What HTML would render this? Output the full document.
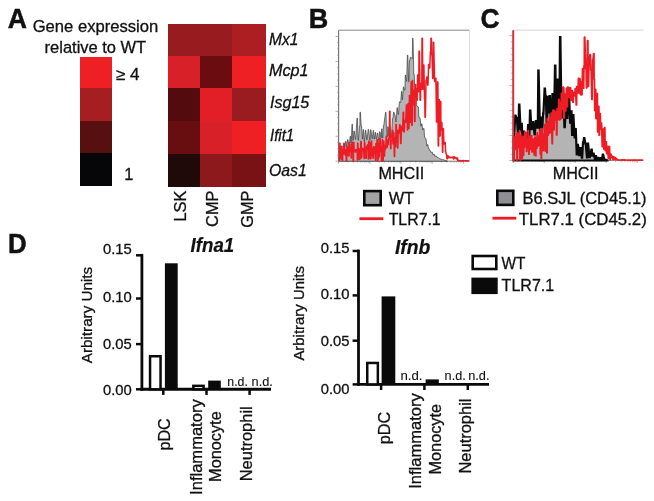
<!DOCTYPE html>
<html lang="en"><head><meta charset="utf-8"><title>Figure</title>
<style>
html,body{margin:0;padding:0;background:#fff;}
body{width:654px;height:501px;overflow:hidden;}
svg{display:block;font-family:"Liberation Sans", Arial, Helvetica, sans-serif;will-change:transform;}
</style></head><body>
<svg width="654" height="501" viewBox="0 0 654 501">
<rect width="654" height="501" fill="#ffffff"/>
<text x="7.8" y="28" font-size="28.2" text-anchor="start" font-weight="bold" font-style="normal" fill="#111" textLength="19.2" lengthAdjust="spacingAndGlyphs" stroke="#111" stroke-width="0.5">A</text>
<text x="32.7" y="32.3" font-size="16.4" text-anchor="start" font-weight="normal" font-style="normal" fill="#111" textLength="125.6" lengthAdjust="spacingAndGlyphs" stroke="#111" stroke-width="0.3">Gene expression</text>
<text x="44.6" y="52.5" font-size="16.4" text-anchor="start" font-weight="normal" font-style="normal" fill="#111" textLength="101.6" lengthAdjust="spacingAndGlyphs" stroke="#111" stroke-width="0.3">relative to WT</text>
<rect x="80.2" y="57.1" width="31.3" height="31.40" fill="#ee2024" shape-rendering="crispEdges"/>
<rect x="80.2" y="88.2" width="31.3" height="32.90" fill="#a61e21" shape-rendering="crispEdges"/>
<rect x="80.2" y="120.8" width="31.3" height="32.10" fill="#57100f" shape-rendering="crispEdges"/>
<rect x="80.2" y="152.6" width="31.3" height="33.40" fill="#060608" shape-rendering="crispEdges"/>
<text x="115.8" y="80.2" font-size="16.4" text-anchor="start" font-weight="normal" font-style="normal" fill="#111" textLength="23.6" lengthAdjust="spacingAndGlyphs" stroke="#111" stroke-width="0.3">≥ 4</text>
<text x="124.2" y="180.2" font-size="16.4" text-anchor="start" font-weight="normal" font-style="normal" fill="#111" stroke="#111" stroke-width="0.3">1</text>
<rect x="168" y="24.3" width="31.90" height="31.60" fill="#981b1f" shape-rendering="crispEdges"/>
<rect x="199.6" y="24.3" width="32.90" height="31.60" fill="#981b1f" shape-rendering="crispEdges"/>
<rect x="232.2" y="24.3" width="33.40" height="31.60" fill="#ad1e23" shape-rendering="crispEdges"/>
<rect x="168" y="55.6" width="31.90" height="32.90" fill="#d82028" shape-rendering="crispEdges"/>
<rect x="199.6" y="55.6" width="32.90" height="32.90" fill="#6b0d10" shape-rendering="crispEdges"/>
<rect x="232.2" y="55.6" width="33.40" height="32.90" fill="#ee2024" shape-rendering="crispEdges"/>
<rect x="168" y="88.2" width="31.90" height="33.40" fill="#540b0d" shape-rendering="crispEdges"/>
<rect x="199.6" y="88.2" width="32.90" height="33.40" fill="#e21f27" shape-rendering="crispEdges"/>
<rect x="232.2" y="88.2" width="33.40" height="33.40" fill="#9b1c20" shape-rendering="crispEdges"/>
<rect x="168" y="121.3" width="31.90" height="32.90" fill="#690e10" shape-rendering="crispEdges"/>
<rect x="199.6" y="121.3" width="32.90" height="32.90" fill="#d72028" shape-rendering="crispEdges"/>
<rect x="232.2" y="121.3" width="33.40" height="32.90" fill="#ee2024" shape-rendering="crispEdges"/>
<rect x="168" y="153.9" width="31.90" height="33.40" fill="#1f0909" shape-rendering="crispEdges"/>
<rect x="199.6" y="153.9" width="32.90" height="33.40" fill="#8d191d" shape-rendering="crispEdges"/>
<rect x="232.2" y="153.9" width="33.40" height="33.40" fill="#781214" shape-rendering="crispEdges"/>
<text x="269.0" y="45.1" font-size="16.4" text-anchor="start" font-weight="normal" font-style="italic" fill="#111" textLength="29.5" lengthAdjust="spacingAndGlyphs" stroke="#111" stroke-width="0.3">Mx1</text>
<text x="269.0" y="76" font-size="16.4" text-anchor="start" font-weight="normal" font-style="italic" fill="#111" textLength="39.6" lengthAdjust="spacingAndGlyphs" stroke="#111" stroke-width="0.3">Mcp1</text>
<text x="270.0" y="108.3" font-size="16.4" text-anchor="start" font-weight="normal" font-style="italic" fill="#111" textLength="39.3" lengthAdjust="spacingAndGlyphs" stroke="#111" stroke-width="0.3">Isg15</text>
<text x="270.0" y="141.4" font-size="16.4" text-anchor="start" font-weight="normal" font-style="italic" fill="#111" textLength="24.2" lengthAdjust="spacingAndGlyphs" stroke="#111" stroke-width="0.3">Ifit1</text>
<text x="269.0" y="176" font-size="16.4" text-anchor="start" font-weight="normal" font-style="italic" fill="#111" textLength="37.8" lengthAdjust="spacingAndGlyphs" stroke="#111" stroke-width="0.3">Oas1</text>
<text x="186.2" y="190.5" transform="rotate(-90 186.2 190.5)" font-size="16.4" text-anchor="end" font-weight="normal" font-style="normal" fill="#111" stroke="#111" stroke-width="0.3">LSK</text>
<text x="217.6" y="190.5" transform="rotate(-90 217.6 190.5)" font-size="16.4" text-anchor="end" font-weight="normal" font-style="normal" fill="#111" stroke="#111" stroke-width="0.3">CMP</text>
<text x="253.0" y="190.5" transform="rotate(-90 253.0 190.5)" font-size="16.4" text-anchor="end" font-weight="normal" font-style="normal" fill="#111" stroke="#111" stroke-width="0.3">GMP</text>
<text x="308.7" y="28" font-size="27.8" text-anchor="start" font-weight="bold" font-style="normal" fill="#111" textLength="19.5" lengthAdjust="spacingAndGlyphs" stroke="#111" stroke-width="0.5">B</text>
<text x="480.6" y="28.2" font-size="27.8" text-anchor="start" font-weight="bold" font-style="normal" fill="#111" textLength="19.0" lengthAdjust="spacingAndGlyphs" stroke="#111" stroke-width="0.5">C</text>
<line x1="338.6" y1="30.2" x2="469.5" y2="30.2" stroke="#8a8a8a" stroke-width="1"/>
<line x1="469.5" y1="30.2" x2="469.5" y2="161.2" stroke="#dcdcdc" stroke-width="1"/>
<line x1="338.6" y1="30.2" x2="338.6" y2="161.2" stroke="#777" stroke-width="1.2"/>
<line x1="338.6" y1="161.2" x2="469.5" y2="161.2" stroke="#777" stroke-width="1"/>
<line x1="335.6" y1="161.2" x2="338.6" y2="161.2" stroke="#888" stroke-width="0.7"/>
<line x1="337.1" y1="155.0" x2="338.6" y2="155.0" stroke="#888" stroke-width="0.7"/>
<line x1="337.1" y1="148.7" x2="338.6" y2="148.7" stroke="#888" stroke-width="0.7"/>
<line x1="337.1" y1="142.5" x2="338.6" y2="142.5" stroke="#888" stroke-width="0.7"/>
<line x1="335.6" y1="136.2" x2="338.6" y2="136.2" stroke="#888" stroke-width="0.7"/>
<line x1="337.1" y1="130.0" x2="338.6" y2="130.0" stroke="#888" stroke-width="0.7"/>
<line x1="337.1" y1="123.8" x2="338.6" y2="123.8" stroke="#888" stroke-width="0.7"/>
<line x1="337.1" y1="117.5" x2="338.6" y2="117.5" stroke="#888" stroke-width="0.7"/>
<line x1="335.6" y1="111.3" x2="338.6" y2="111.3" stroke="#888" stroke-width="0.7"/>
<line x1="337.1" y1="105.0" x2="338.6" y2="105.0" stroke="#888" stroke-width="0.7"/>
<line x1="337.1" y1="98.8" x2="338.6" y2="98.8" stroke="#888" stroke-width="0.7"/>
<line x1="337.1" y1="92.6" x2="338.6" y2="92.6" stroke="#888" stroke-width="0.7"/>
<line x1="335.6" y1="86.3" x2="338.6" y2="86.3" stroke="#888" stroke-width="0.7"/>
<line x1="337.1" y1="80.1" x2="338.6" y2="80.1" stroke="#888" stroke-width="0.7"/>
<line x1="337.1" y1="73.8" x2="338.6" y2="73.8" stroke="#888" stroke-width="0.7"/>
<line x1="337.1" y1="67.6" x2="338.6" y2="67.6" stroke="#888" stroke-width="0.7"/>
<line x1="335.6" y1="61.4" x2="338.6" y2="61.4" stroke="#888" stroke-width="0.7"/>
<line x1="337.1" y1="55.1" x2="338.6" y2="55.1" stroke="#888" stroke-width="0.7"/>
<line x1="337.1" y1="48.9" x2="338.6" y2="48.9" stroke="#888" stroke-width="0.7"/>
<line x1="337.1" y1="42.6" x2="338.6" y2="42.6" stroke="#888" stroke-width="0.7"/>
<line x1="335.6" y1="36.4" x2="338.6" y2="36.4" stroke="#888" stroke-width="0.7"/>
<line x1="338.6" y1="161.2" x2="338.6" y2="163.7" stroke="#666" stroke-width="0.6"/>
<line x1="348.0" y1="161.2" x2="348.0" y2="162.5" stroke="#666" stroke-width="0.6"/>
<line x1="353.5" y1="161.2" x2="353.5" y2="162.5" stroke="#666" stroke-width="0.6"/>
<line x1="357.4" y1="161.2" x2="357.4" y2="162.5" stroke="#666" stroke-width="0.6"/>
<line x1="360.4" y1="161.2" x2="360.4" y2="162.5" stroke="#666" stroke-width="0.6"/>
<line x1="362.9" y1="161.2" x2="362.9" y2="162.5" stroke="#666" stroke-width="0.6"/>
<line x1="364.9" y1="161.2" x2="364.9" y2="162.5" stroke="#666" stroke-width="0.6"/>
<line x1="366.7" y1="161.2" x2="366.7" y2="162.5" stroke="#666" stroke-width="0.6"/>
<line x1="368.3" y1="161.2" x2="368.3" y2="162.5" stroke="#666" stroke-width="0.6"/>
<line x1="369.8" y1="161.2" x2="369.8" y2="163.7" stroke="#666" stroke-width="0.6"/>
<line x1="379.1" y1="161.2" x2="379.1" y2="162.5" stroke="#666" stroke-width="0.6"/>
<line x1="384.6" y1="161.2" x2="384.6" y2="162.5" stroke="#666" stroke-width="0.6"/>
<line x1="388.5" y1="161.2" x2="388.5" y2="162.5" stroke="#666" stroke-width="0.6"/>
<line x1="391.6" y1="161.2" x2="391.6" y2="162.5" stroke="#666" stroke-width="0.6"/>
<line x1="394.0" y1="161.2" x2="394.0" y2="162.5" stroke="#666" stroke-width="0.6"/>
<line x1="396.1" y1="161.2" x2="396.1" y2="162.5" stroke="#666" stroke-width="0.6"/>
<line x1="397.9" y1="161.2" x2="397.9" y2="162.5" stroke="#666" stroke-width="0.6"/>
<line x1="399.5" y1="161.2" x2="399.5" y2="162.5" stroke="#666" stroke-width="0.6"/>
<line x1="400.9" y1="161.2" x2="400.9" y2="163.7" stroke="#666" stroke-width="0.6"/>
<line x1="410.3" y1="161.2" x2="410.3" y2="162.5" stroke="#666" stroke-width="0.6"/>
<line x1="415.8" y1="161.2" x2="415.8" y2="162.5" stroke="#666" stroke-width="0.6"/>
<line x1="419.7" y1="161.2" x2="419.7" y2="162.5" stroke="#666" stroke-width="0.6"/>
<line x1="422.7" y1="161.2" x2="422.7" y2="162.5" stroke="#666" stroke-width="0.6"/>
<line x1="425.2" y1="161.2" x2="425.2" y2="162.5" stroke="#666" stroke-width="0.6"/>
<line x1="427.3" y1="161.2" x2="427.3" y2="162.5" stroke="#666" stroke-width="0.6"/>
<line x1="429.1" y1="161.2" x2="429.1" y2="162.5" stroke="#666" stroke-width="0.6"/>
<line x1="430.7" y1="161.2" x2="430.7" y2="162.5" stroke="#666" stroke-width="0.6"/>
<line x1="432.1" y1="161.2" x2="432.1" y2="163.7" stroke="#666" stroke-width="0.6"/>
<line x1="441.5" y1="161.2" x2="441.5" y2="162.5" stroke="#666" stroke-width="0.6"/>
<line x1="447.0" y1="161.2" x2="447.0" y2="162.5" stroke="#666" stroke-width="0.6"/>
<line x1="450.9" y1="161.2" x2="450.9" y2="162.5" stroke="#666" stroke-width="0.6"/>
<line x1="453.9" y1="161.2" x2="453.9" y2="162.5" stroke="#666" stroke-width="0.6"/>
<line x1="456.4" y1="161.2" x2="456.4" y2="162.5" stroke="#666" stroke-width="0.6"/>
<line x1="458.4" y1="161.2" x2="458.4" y2="162.5" stroke="#666" stroke-width="0.6"/>
<line x1="460.2" y1="161.2" x2="460.2" y2="162.5" stroke="#666" stroke-width="0.6"/>
<line x1="461.8" y1="161.2" x2="461.8" y2="162.5" stroke="#666" stroke-width="0.6"/>
<line x1="463.3" y1="161.2" x2="463.3" y2="163.7" stroke="#666" stroke-width="0.6"/>
<path d="M339.2,161.2 L339.2,159.4 L339.6,159.4 L340.3,155.0 L340.7,155.0 L341.5,149.1 L341.9,149.1 L342.3,154.0 L342.6,154.0 L343.6,146.2 L344.0,146.2 L344.5,147.8 L344.9,147.8 L345.6,141.3 L346.0,141.3 L346.7,147.2 L347.0,147.2 L347.5,139.6 L347.9,139.6 L348.9,146.0 L349.3,146.0 L350.2,136.2 L350.5,136.2 L350.9,142.9 L351.3,142.9 L352.0,124.2 L352.4,124.2 L352.8,140.4 L353.2,140.4 L353.9,131.0 L354.3,131.0 L355.3,139.3 L355.7,139.3 L357.0,118.2 L357.4,118.2 L358.1,140.3 L358.5,140.3 L359.5,126.1 L359.9,126.1 L360.0,112.2 L360.4,112.2 L361.2,126.1 L361.6,126.1 L362.3,139.0 L362.6,139.0 L363.2,129.6 L363.5,129.6 L364.2,141.8 L364.5,141.8 L365.4,130.3 L365.7,130.3 L366.8,139.8 L367.1,139.8 L368.2,129.4 L368.6,129.4 L369.7,140.2 L370.1,140.2 L370.6,129.7 L370.9,129.7 L372.0,138.7 L372.4,138.7 L373.2,130.4 L373.5,130.4 L374.1,139.0 L374.4,139.0 L375.2,132.3 L375.6,132.3 L376.0,138.7 L376.3,138.7 L377.5,133.0 L377.8,133.0 L378.8,141.7 L379.1,141.7 L379.6,131.7 L380.0,131.7 L380.9,137.7 L381.3,137.7 L381.7,128.8 L382.0,128.8 L382.4,138.0 L382.8,138.0 L383.4,126.0 L383.7,126.0 L385.6,112.2 L386.0,112.2 L386.4,126.9 L386.7,126.9 L387.1,136.6 L387.5,136.6 L387.8,126.7 L388.2,126.7 L388.9,135.8 L389.2,135.8 L389.7,126.6 L390.0,126.6 L391.1,137.6 L391.4,137.6 L392.5,118.5 L392.9,118.5 L393.6,112.2 L394.0,112.2 L394.7,114.8 L395.0,114.8 L395.8,121.8 L396.2,121.8 L397.0,107.7 L397.4,107.7 L398.1,114.6 L398.5,114.6 L399.4,101.8 L399.8,101.8 L400.4,102.6 L400.7,102.6 L401.5,91.4 L401.8,91.4 L402.2,99.8 L402.5,99.8 L403.4,86.9 L403.7,86.9 L404.5,90.2 L404.9,90.2 L405.3,75.0 L405.6,75.0 L406.4,81.3 L406.7,81.3 L407.4,55.2 L407.8,55.2 L408.6,81.7 L409.0,81.7 L409.4,60.7 L409.7,60.7 L410.4,57.2 L410.8,57.2 L411.9,58.6 L412.3,58.6 L412.6,38.2 L413.0,38.2 L413.8,74.2 L414.2,74.2 L415.0,98.1 L415.4,98.1 L416.0,91.4 L416.4,91.4 L416.7,106.1 L417.1,106.1 L418.0,106.9 L418.4,106.9 L418.9,117.2 L419.2,117.2 L419.8,118.2 L420.1,118.2 L420.8,126.0 L421.2,126.0 L421.6,123.8 L422.0,123.8 L422.6,129.9 L422.9,129.9 L423.6,128.4 L424.0,128.4 L424.5,137.3 L424.8,137.3 L425.7,138.7 L426.0,138.7 L426.8,145.9 L427.1,145.9 L427.5,144.6 L427.9,144.6 L428.4,148.3 L428.8,148.3 L429.8,150.3 L430.1,150.3 L430.7,152.3 L431.0,152.3 L431.9,152.2 L432.3,152.2 L432.9,154.8 L433.2,154.8 L433.8,154.1 L434.2,154.1 L434.7,156.1 L435.1,156.1 L435.8,155.9 L436.1,155.9 L436.8,157.1 L437.1,157.1 L437.6,157.3 L438.0,157.3 L439.1,158.5 L439.4,158.5 L440.6,159.0 L440.9,159.0 L442.0,159.6 L442.4,159.6 L442.9,159.6 L443.3,159.6 L444.3,160.2 L444.6,160.2 L445.4,160.4 L445.7,160.4 L446.4,160.8 L446.7,160.8 L447.5,161.2 Z" fill="#b4b4b4" stroke="#3a3a3a" stroke-width="0.7" stroke-linejoin="miter"/>
<path d="M339.4,161.2 L339.6,143.2 L340.0,143.2 L340.0,151.2 L340.3,151.2 L340.5,147.2 L340.9,147.2 L341.1,159.2 L341.4,159.2 L341.6,146.2 L342.0,146.2 L342.3,160.2 L342.7,160.2 L342.8,150.6 L343.1,150.6 L343.5,153.7 L343.8,153.7 L343.8,143.3 L344.2,143.3 L344.6,154.1 L344.9,154.1 L345.2,150.0 L345.5,150.0 L345.5,155.5 L345.9,155.5 L345.9,149.6 L346.2,149.6 L346.3,160.9 L346.7,160.9 L346.9,147.5 L347.2,147.5 L347.6,155.4 L347.9,155.4 L348.2,146.8 L348.5,146.8 L348.8,156.1 L349.1,156.1 L349.2,142.4 L349.6,142.4 L350.0,151.6 L350.3,151.6 L350.6,148.0 L351.0,148.0 L351.1,157.9 L351.4,157.9 L351.4,144.1 L351.8,144.1 L352.0,151.4 L352.3,151.4 L352.5,142.3 L352.8,142.3 L353.1,161.2 L353.5,161.2 L353.6,142.6 L353.9,142.6 L354.1,149.8 L354.5,149.8 L354.6,149.9 L355.0,149.9 L355.2,152.1 L355.6,152.1 L355.7,149.7 L356.0,149.7 L356.2,149.9 L356.5,149.9 L356.8,149.3 L357.2,149.3 L357.3,160.0 L357.6,160.0 L357.6,143.2 L358.0,143.2 L358.1,154.6 L358.4,154.6 L358.6,148.6 L358.9,148.6 L359.2,159.6 L359.6,159.6 L359.8,149.2 L360.2,149.2 L360.4,158.6 L360.7,158.6 L360.8,141.4 L361.2,141.4 L361.5,157.5 L361.8,157.5 L362.2,148.2 L362.5,148.2 L362.7,150.8 L363.1,150.8 L363.3,149.1 L363.7,149.1 L364.1,158.6 L364.4,158.6 L364.5,142.8 L364.9,142.8 L365.0,157.6 L365.3,157.6 L365.4,149.1 L365.7,149.1 L366.0,158.2 L366.3,158.2 L366.5,146.4 L366.9,146.4 L367.1,149.3 L367.4,149.3 L367.6,144.4 L368.0,144.4 L368.3,158.9 L368.7,158.9 L368.7,141.2 L369.1,141.2 L369.4,158.1 L369.8,158.1 L369.8,142.7 L370.2,142.7 L370.6,158.7 L370.9,158.7 L371.3,141.1 L371.6,141.1 L371.9,155.8 L372.2,155.8 L372.3,149.0 L372.6,149.0 L373.0,158.1 L373.4,158.1 L373.6,146.7 L374.0,146.7 L374.3,153.4 L374.7,153.4 L374.8,147.4 L375.1,147.4 L375.4,160.3 L375.8,160.3 L375.9,143.4 L376.2,143.4 L376.6,153.0 L376.9,153.0 L377.0,139.6 L377.4,139.6 L377.5,161.0 L377.8,161.0 L377.9,144.3 L378.3,144.3 L378.3,158.8 L378.6,158.8 L378.8,142.8 L379.1,142.8 L379.2,156.2 L379.5,156.2 L379.9,138.4 L380.2,138.4 L380.5,151.5 L380.9,151.5 L381.1,146.5 L381.4,146.5 L381.4,160.9 L381.8,160.9 L382.2,139.7 L382.5,139.7 L382.9,160.9 L383.2,160.9 L383.5,141.3 L383.9,141.3 L384.1,156.1 L384.5,156.1 L384.9,145.4 L385.2,145.4 L385.5,148.9 L385.8,148.9 L386.2,136.3 L386.5,136.3 L386.8,147.2 L387.2,147.2 L387.5,140.1 L387.9,140.1 L388.1,144.5 L388.5,144.5 L388.8,138.1 L389.2,138.1 L389.6,111.2 L390.0,111.2 L390.1,134.3 L390.4,134.3 L390.6,148.7 L390.9,148.7 L391.2,141.0 L391.5,141.0 L391.8,140.2 L392.1,140.2 L392.5,130.2 L392.8,130.2 L393.0,144.0 L393.3,144.0 L393.6,132.7 L393.9,132.7 L394.3,156.6 L394.6,156.6 L394.9,137.5 L395.3,137.5 L395.5,146.7 L395.9,146.7 L395.9,124.4 L396.3,124.4 L396.5,142.3 L396.8,142.3 L397.2,130.4 L397.6,130.4 L397.6,148.0 L397.9,148.0 L398.2,130.2 L398.5,130.2 L398.8,133.1 L399.1,133.1 L399.6,124.7 L400.0,124.7 L400.6,143.4 L401.0,143.4 L401.5,126.2 L401.9,126.2 L402.2,130.8 L402.6,130.8 L403.2,112.3 L403.6,112.3 L404.0,132.0 L404.3,132.0 L404.6,120.4 L405.0,120.4 L405.4,122.3 L405.8,122.3 L406.4,104.9 L406.7,104.9 L407.4,130.1 L407.7,130.1 L408.0,103.7 L408.3,103.7 L408.6,128.5 L409.0,128.5 L409.4,95.4 L409.7,95.4 L410.1,122.2 L410.5,122.2 L411.1,81.9 L411.4,81.9 L411.8,125.3 L412.2,125.3 L412.4,80.4 L412.7,80.4 L412.9,104.7 L413.2,104.7 L413.7,90.4 L414.0,90.4 L414.6,121.4 L415.0,121.4 L415.2,84.5 L415.6,84.5 L415.7,96.0 L416.1,96.0 L416.4,89.1 L416.7,89.1 L416.9,100.2 L417.2,100.2 L417.6,75.0 L418.0,75.0 L418.5,91.8 L418.8,91.8 L419.0,51.2 L419.4,51.2 L420.1,100.3 L420.5,100.3 L420.7,83.4 L421.1,83.4 L421.5,89.6 L421.8,89.6 L422.0,38.2 L422.4,38.2 L422.8,89.0 L423.1,89.0 L423.6,64.9 L423.9,64.9 L424.5,98.9 L424.8,98.9 L425.0,117.2 L425.4,117.2 L426.0,80.6 L426.3,80.6 L426.9,76.9 L427.2,76.9 L427.6,85.1 L428.0,85.1 L428.6,64.6 L429.0,64.6 L429.4,67.9 L429.8,67.9 L430.4,51.8 L430.7,51.8 L431.0,38.2 L431.4,38.2 L431.7,55.1 L432.1,55.1 L432.7,78.6 L433.0,78.6 L433.3,42.2 L433.7,42.2 L434.6,81.4 L434.9,81.4 L435.6,78.2 L435.9,78.2 L436.5,122.1 L436.9,122.1 L437.5,82.0 L437.9,82.0 L438.2,146.0 L438.6,146.0 L439.0,99.6 L439.3,99.6 L439.9,136.1 L440.2,136.1 L440.4,101.6 L440.8,101.6 L440.9,129.9 L441.3,129.9 L441.5,122.6 L441.9,122.6 L442.5,152.3 L442.8,152.3 L443.1,128.4 L443.4,128.4 L443.9,143.9 L444.3,143.9 L444.8,142.5 L445.2,142.5 L445.6,152.0 L445.9,152.0 L446.1,154.0 L446.5,154.0 L446.9,158.8 L447.3,158.8 L447.8,155.8 L448.2,155.8 L448.6,157.7 L449.0,157.7 L449.4,156.9 L449.8,156.9 L450.1,157.8 L450.5,157.8 L451.1,157.3 L451.5,157.3 L452.1,157.7 L452.5,157.7 L452.9,156.8 L453.2,156.8 L453.5,158.9 L453.9,158.9 L454.3,156.9 L454.6,156.9 L454.8,158.0 L455.1,158.0 L455.6,157.5 L455.9,157.5 L456.5,159.0 L456.9,159.0 L457.3,158.1 L457.6,158.1 L457.8,160.5 L458.2,160.5 L458.6,160.4 L458.9,160.4 L459.6,160.9 L459.9,160.9 L460.3,160.7 L460.7,160.7 L461.1,160.7 L461.4,160.7 L462.1,160.6 L462.4,160.6 L462.7,160.9 L463.1,160.9 L463.6,160.6 L463.9,160.6 L464.1,160.8 L464.5,160.8 L464.7,160.7 L465.0,160.7 L465.3,160.8 L465.6,160.8 L466.0,160.7 L466.3,160.7 L466.8,161.0 L467.1,161.0 L467.7,160.8 L468.0,160.8 L468.5,161.0 L468.8,161.0 L469.0,161.2" fill="none" stroke="#ee1c24" stroke-width="1.5" stroke-linejoin="round"/>
<line x1="513.2" y1="30.2" x2="643.4" y2="30.2" stroke="#dddddd" stroke-width="1.2"/>
<line x1="513.2" y1="160.5" x2="643.4" y2="160.5" stroke="#777" stroke-width="0.8"/>
<line x1="509.20000000000005" y1="160.5" x2="513.2" y2="160.5" stroke="#e08080" stroke-width="0.7"/>
<line x1="510.70000000000005" y1="154.3" x2="513.2" y2="154.3" stroke="#e08080" stroke-width="0.7"/>
<line x1="510.70000000000005" y1="148.0" x2="513.2" y2="148.0" stroke="#e08080" stroke-width="0.7"/>
<line x1="510.70000000000005" y1="141.8" x2="513.2" y2="141.8" stroke="#e08080" stroke-width="0.7"/>
<line x1="509.20000000000005" y1="135.5" x2="513.2" y2="135.5" stroke="#e08080" stroke-width="0.7"/>
<line x1="510.70000000000005" y1="129.3" x2="513.2" y2="129.3" stroke="#e08080" stroke-width="0.7"/>
<line x1="510.70000000000005" y1="123.1" x2="513.2" y2="123.1" stroke="#e08080" stroke-width="0.7"/>
<line x1="510.70000000000005" y1="116.8" x2="513.2" y2="116.8" stroke="#e08080" stroke-width="0.7"/>
<line x1="509.20000000000005" y1="110.6" x2="513.2" y2="110.6" stroke="#e08080" stroke-width="0.7"/>
<line x1="510.70000000000005" y1="104.3" x2="513.2" y2="104.3" stroke="#e08080" stroke-width="0.7"/>
<line x1="510.70000000000005" y1="98.1" x2="513.2" y2="98.1" stroke="#e08080" stroke-width="0.7"/>
<line x1="510.70000000000005" y1="91.9" x2="513.2" y2="91.9" stroke="#e08080" stroke-width="0.7"/>
<line x1="509.20000000000005" y1="85.6" x2="513.2" y2="85.6" stroke="#e08080" stroke-width="0.7"/>
<line x1="510.70000000000005" y1="79.4" x2="513.2" y2="79.4" stroke="#e08080" stroke-width="0.7"/>
<line x1="510.70000000000005" y1="73.1" x2="513.2" y2="73.1" stroke="#e08080" stroke-width="0.7"/>
<line x1="510.70000000000005" y1="66.9" x2="513.2" y2="66.9" stroke="#e08080" stroke-width="0.7"/>
<line x1="509.20000000000005" y1="60.7" x2="513.2" y2="60.7" stroke="#e08080" stroke-width="0.7"/>
<line x1="510.70000000000005" y1="54.4" x2="513.2" y2="54.4" stroke="#e08080" stroke-width="0.7"/>
<line x1="510.70000000000005" y1="48.2" x2="513.2" y2="48.2" stroke="#e08080" stroke-width="0.7"/>
<line x1="510.70000000000005" y1="41.9" x2="513.2" y2="41.9" stroke="#e08080" stroke-width="0.7"/>
<line x1="509.20000000000005" y1="35.7" x2="513.2" y2="35.7" stroke="#e08080" stroke-width="0.7"/>
<line x1="513.2" y1="160.5" x2="513.2" y2="163.0" stroke="#666" stroke-width="0.6"/>
<line x1="522.5" y1="160.5" x2="522.5" y2="161.8" stroke="#666" stroke-width="0.6"/>
<line x1="528.0" y1="160.5" x2="528.0" y2="161.8" stroke="#666" stroke-width="0.6"/>
<line x1="531.9" y1="160.5" x2="531.9" y2="161.8" stroke="#666" stroke-width="0.6"/>
<line x1="534.9" y1="160.5" x2="534.9" y2="161.8" stroke="#666" stroke-width="0.6"/>
<line x1="537.3" y1="160.5" x2="537.3" y2="161.8" stroke="#666" stroke-width="0.6"/>
<line x1="539.4" y1="160.5" x2="539.4" y2="161.8" stroke="#666" stroke-width="0.6"/>
<line x1="541.2" y1="160.5" x2="541.2" y2="161.8" stroke="#666" stroke-width="0.6"/>
<line x1="542.8" y1="160.5" x2="542.8" y2="161.8" stroke="#666" stroke-width="0.6"/>
<line x1="544.2" y1="160.5" x2="544.2" y2="163.0" stroke="#666" stroke-width="0.6"/>
<line x1="553.5" y1="160.5" x2="553.5" y2="161.8" stroke="#666" stroke-width="0.6"/>
<line x1="559.0" y1="160.5" x2="559.0" y2="161.8" stroke="#666" stroke-width="0.6"/>
<line x1="562.9" y1="160.5" x2="562.9" y2="161.8" stroke="#666" stroke-width="0.6"/>
<line x1="565.9" y1="160.5" x2="565.9" y2="161.8" stroke="#666" stroke-width="0.6"/>
<line x1="568.3" y1="160.5" x2="568.3" y2="161.8" stroke="#666" stroke-width="0.6"/>
<line x1="570.4" y1="160.5" x2="570.4" y2="161.8" stroke="#666" stroke-width="0.6"/>
<line x1="572.2" y1="160.5" x2="572.2" y2="161.8" stroke="#666" stroke-width="0.6"/>
<line x1="573.8" y1="160.5" x2="573.8" y2="161.8" stroke="#666" stroke-width="0.6"/>
<line x1="575.2" y1="160.5" x2="575.2" y2="163.0" stroke="#666" stroke-width="0.6"/>
<line x1="584.5" y1="160.5" x2="584.5" y2="161.8" stroke="#666" stroke-width="0.6"/>
<line x1="590.0" y1="160.5" x2="590.0" y2="161.8" stroke="#666" stroke-width="0.6"/>
<line x1="593.9" y1="160.5" x2="593.9" y2="161.8" stroke="#666" stroke-width="0.6"/>
<line x1="596.9" y1="160.5" x2="596.9" y2="161.8" stroke="#666" stroke-width="0.6"/>
<line x1="599.3" y1="160.5" x2="599.3" y2="161.8" stroke="#666" stroke-width="0.6"/>
<line x1="601.4" y1="160.5" x2="601.4" y2="161.8" stroke="#666" stroke-width="0.6"/>
<line x1="603.2" y1="160.5" x2="603.2" y2="161.8" stroke="#666" stroke-width="0.6"/>
<line x1="604.8" y1="160.5" x2="604.8" y2="161.8" stroke="#666" stroke-width="0.6"/>
<line x1="606.2" y1="160.5" x2="606.2" y2="163.0" stroke="#666" stroke-width="0.6"/>
<line x1="615.5" y1="160.5" x2="615.5" y2="161.8" stroke="#666" stroke-width="0.6"/>
<line x1="621.0" y1="160.5" x2="621.0" y2="161.8" stroke="#666" stroke-width="0.6"/>
<line x1="624.9" y1="160.5" x2="624.9" y2="161.8" stroke="#666" stroke-width="0.6"/>
<line x1="627.9" y1="160.5" x2="627.9" y2="161.8" stroke="#666" stroke-width="0.6"/>
<line x1="630.3" y1="160.5" x2="630.3" y2="161.8" stroke="#666" stroke-width="0.6"/>
<line x1="632.4" y1="160.5" x2="632.4" y2="161.8" stroke="#666" stroke-width="0.6"/>
<line x1="634.2" y1="160.5" x2="634.2" y2="161.8" stroke="#666" stroke-width="0.6"/>
<line x1="635.8" y1="160.5" x2="635.8" y2="161.8" stroke="#666" stroke-width="0.6"/>
<line x1="637.2" y1="160.5" x2="637.2" y2="163.0" stroke="#666" stroke-width="0.6"/>
<path d="M513.6,160.5 L513.6,137.9 L514.0,137.9 L515.3,115.5 L515.6,115.5 L516.5,118.1 L516.9,118.1 L518.1,136.9 L518.4,136.9 L519.0,104.5 L519.4,104.5 L520.6,130.5 L520.9,130.5 L521.5,123.9 L521.8,123.9 L522.5,137.8 L522.8,137.8 L523.7,131.7 L524.1,131.7 L524.7,142.5 L525.0,142.5 L525.7,138.5 L526.1,138.5 L527.2,136.9 L527.5,136.9 L528.1,125.0 L528.4,125.0 L529.0,140.2 L529.3,140.2 L530.0,110.5 L530.4,110.5 L531.4,129.2 L531.8,129.2 L532.9,122.2 L533.3,122.2 L534.5,134.3 L534.9,134.3 L535.8,121.0 L536.2,121.0 L537.4,127.7 L537.8,127.7 L538.3,70.5 L538.6,70.5 L540.0,131.4 L540.4,131.4 L540.9,117.7 L541.3,117.7 L541.8,133.1 L542.1,133.1 L543.1,113.3 L543.4,113.3 L544.6,88.5 L545.0,88.5 L545.5,96.1 L545.8,96.1 L546.7,122.6 L547.0,122.6 L547.8,96.9 L548.2,96.9 L548.7,112.5 L549.0,112.5 L549.5,96.1 L549.9,96.1 L551.0,125.4 L551.3,125.4 L552.4,94.2 L552.8,94.2 L553.7,122.1 L554.0,122.1 L555.0,65.5 L555.4,65.5 L556.1,116.6 L556.4,116.6 L557.5,79.7 L557.8,79.7 L559.0,110.8 L559.4,110.8 L560.0,37.0 L560.4,37.0 L561.5,117.3 L561.9,117.3 L562.9,88.4 L563.3,88.4 L564.4,127.2 L564.8,127.2 L566.0,105.0 L566.3,105.0 L567.1,118.0 L567.4,118.0 L568.5,88.5 L568.9,88.5 L570.1,122.7 L570.5,122.7 L571.2,111.4 L571.5,111.4 L572.1,134.8 L572.5,134.8 L573.0,115.1 L573.4,115.1 L574.6,137.4 L575.0,137.4 L575.5,129.1 L575.8,129.1 L576.7,154.5 L577.1,154.5 L577.7,144.8 L578.0,144.8 L579.2,155.1 L579.5,155.1 L580.3,148.1 L580.6,148.1 L581.8,157.6 L582.2,157.6 L583.0,142.3 L583.4,142.3 L584.0,138.0 L584.4,138.0 L585.5,144.2 L585.8,144.2 L586.9,157.4 L587.3,157.4 L587.7,143.5 L588.1,143.5 L589.5,157.2 L589.9,157.2 L591.4,149.5 L591.8,149.5 L592.2,155.7 L592.5,155.7 L593.3,153.7 L593.7,153.7 L594.7,158.4 L595.1,158.4 L595.8,156.1 L596.1,156.1 L596.7,159.2 L597.0,159.2 L598.3,157.8 L598.6,157.8 L599.6,159.7 L599.9,159.7 L600.6,158.0 L601.0,158.0 L601.7,158.7 L602.0,158.7 L602.8,154.5 L603.1,154.5 L604.6,160.1 L604.9,160.1 L605.9,159.9 L606.3,159.9 L607.3,160.4 L607.7,160.4 L608.5,160.5 Z" fill="#b4b4b4" stroke="#0a0a0a" stroke-width="2.2" stroke-linejoin="miter"/>
<path d="M514.2,160.5 L514.2,137.1 L514.6,137.1 L514.8,149.5 L515.2,149.5 L515.4,136.9 L515.7,136.9 L516.0,146.8 L516.4,146.8 L516.6,133.6 L516.9,133.6 L517.0,160.4 L517.4,160.4 L517.5,133.1 L517.9,133.1 L517.9,147.6 L518.3,147.6 L518.4,138.2 L518.7,138.2 L518.7,144.6 L519.1,144.6 L519.4,130.6 L519.7,130.6 L520.0,160.0 L520.3,160.0 L520.4,135.7 L520.8,135.7 L520.8,145.7 L521.2,145.7 L521.3,140.0 L521.7,140.0 L522.0,158.6 L522.4,158.6 L522.7,136.3 L523.1,136.3 L523.3,155.2 L523.7,155.2 L523.8,139.6 L524.2,139.6 L524.2,147.1 L524.6,147.1 L524.7,132.2 L525.0,132.2 L525.1,145.5 L525.4,145.5 L525.8,132.5 L526.1,132.5 L526.5,151.5 L526.8,151.5 L527.1,140.4 L527.4,140.4 L527.6,147.7 L528.0,147.7 L528.1,130.5 L528.4,130.5 L528.8,154.2 L529.1,154.2 L529.3,136.3 L529.6,136.3 L529.8,145.1 L530.1,145.1 L530.3,141.6 L530.6,141.6 L530.7,149.3 L531.0,149.3 L531.4,135.6 L531.8,135.6 L532.0,151.9 L532.3,151.9 L532.6,139.0 L533.0,139.0 L533.2,151.8 L533.6,151.8 L533.8,139.4 L534.2,139.4 L534.2,155.0 L534.6,155.0 L534.9,137.2 L535.3,137.2 L535.5,155.7 L535.9,155.7 L535.9,140.7 L536.3,140.7 L536.6,148.2 L536.9,148.2 L537.1,132.8 L537.4,132.8 L537.7,146.2 L538.1,146.2 L538.4,136.2 L538.8,136.2 L539.2,145.2 L539.5,145.2 L539.8,130.0 L540.1,130.0 L540.3,154.2 L540.7,154.2 L540.8,128.9 L541.1,128.9 L541.2,158.4 L541.5,158.4 L541.9,128.5 L542.2,128.5 L542.4,144.4 L542.8,144.4 L542.8,134.2 L543.1,134.2 L543.2,150.6 L543.6,150.6 L543.7,135.6 L544.0,135.6 L544.1,141.3 L544.5,141.3 L544.9,124.3 L545.2,124.3 L545.4,151.2 L545.8,151.2 L546.2,125.1 L546.5,125.1 L546.8,152.8 L547.2,152.8 L547.2,118.4 L547.6,118.4 L547.9,135.2 L548.3,135.2 L548.5,122.0 L548.9,122.0 L549.3,133.2 L549.6,133.2 L549.9,117.5 L550.3,117.5 L550.6,132.4 L550.9,132.4 L551.1,113.0 L551.4,113.0 L552.1,143.7 L552.4,143.7 L552.9,110.2 L553.2,110.2 L553.8,129.8 L554.1,129.8 L554.4,110.5 L554.8,110.5 L555.4,120.3 L555.7,120.3 L556.0,112.0 L556.3,112.0 L556.5,135.0 L556.9,135.0 L557.2,108.6 L557.6,108.6 L558.2,119.4 L558.5,119.4 L558.7,99.3 L559.1,99.3 L559.4,119.9 L559.7,119.9 L560.0,102.3 L560.4,102.3 L560.6,119.2 L560.9,119.2 L561.4,93.4 L561.8,93.4 L562.0,109.6 L562.3,109.6 L562.9,87.0 L563.3,87.0 L563.8,118.0 L564.2,118.0 L564.5,94.2 L564.9,94.2 L565.4,111.0 L565.8,111.0 L566.3,88.4 L566.6,88.4 L567.1,106.7 L567.5,106.7 L567.6,87.2 L568.0,87.2 L568.3,97.5 L568.6,97.5 L568.9,87.5 L569.3,87.5 L569.7,97.6 L570.1,97.6 L570.3,87.8 L570.6,87.8 L571.0,100.4 L571.4,100.4 L572.0,90.5 L572.4,90.5 L572.9,102.5 L573.2,102.5 L573.6,92.6 L574.0,92.6 L574.5,95.9 L574.9,95.9 L575.2,88.7 L575.6,88.7 L576.2,105.0 L576.6,105.0 L576.8,86.6 L577.1,86.6 L577.7,93.0 L578.0,93.0 L578.4,78.4 L578.7,78.4 L578.9,93.0 L579.2,93.0 L579.6,78.5 L580.0,78.5 L580.3,94.6 L580.7,94.6 L580.9,81.8 L581.3,81.8 L581.6,94.8 L582.0,94.8 L582.5,68.7 L582.8,68.7 L583.4,88.2 L583.7,88.2 L584.0,65.7 L584.3,65.7 L584.4,37.0 L584.8,37.0 L585.7,68.8 L586.1,68.8 L586.4,87.8 L586.8,87.8 L587.5,40.5 L587.9,40.5 L588.2,86.4 L588.5,86.4 L589.1,59.4 L589.4,59.4 L590.0,54.5 L590.4,54.5 L590.8,70.3 L591.2,70.3 L591.8,99.5 L592.1,99.5 L592.6,59.9 L593.0,59.9 L593.6,53.5 L594.0,53.5 L594.1,79.2 L594.4,79.2 L594.7,110.6 L595.1,110.6 L595.3,89.4 L595.7,89.4 L595.9,118.6 L596.2,118.6 L597.0,93.5 L597.4,93.5 L597.6,131.8 L597.9,131.8 L598.5,106.4 L598.9,106.4 L599.1,135.2 L599.5,135.2 L600.0,113.5 L600.3,113.5 L600.6,128.8 L600.9,128.8 L601.3,123.2 L601.6,123.2 L602.2,146.7 L602.5,146.7 L603.0,129.1 L603.4,129.1 L603.8,149.1 L604.2,149.1 L604.5,127.7 L604.9,127.7 L605.2,150.6 L605.6,150.6 L606.0,141.8 L606.4,141.8 L606.6,153.6 L607.0,153.6 L607.3,146.3 L607.6,146.3 L608.3,158.1 L608.6,158.1 L609.2,146.3 L609.5,146.3 L610.0,159.8 L610.4,159.8 L610.8,154.1 L611.1,154.1 L611.6,157.3 L611.9,157.3 L612.2,156.3 L612.5,156.3 L613.0,159.7 L613.3,159.7 L613.6,156.9 L614.0,156.9 L614.6,159.1 L614.9,159.1 L615.1,157.6 L615.5,157.6 L616.0,159.4 L616.4,159.4 L616.6,159.0 L616.9,159.0 L617.3,159.8 L617.6,159.8 L617.9,159.8 L618.2,159.8 L618.8,160.0 L619.1,160.0 L619.7,160.0 L620.1,160.0 L620.5,160.0 L620.9,160.0 L621.5,159.9 L621.8,159.9 L622.4,160.1 L622.7,160.1 L622.9,159.9 L623.2,159.9 L623.7,160.0 L624.0,160.0 L624.4,159.9 L624.8,159.9 L625.1,160.1 L625.4,160.1 L625.8,160.0 L626.1,160.0 L626.6,160.0 L626.9,160.0 L627.1,160.0 L627.5,160.0 L627.9,160.1 L628.2,160.1 L628.5,160.0 L628.8,160.0 L629.0,160.1 L629.4,160.1 L629.7,160.0 L630.1,160.0 L630.6,160.1 L630.9,160.1 L631.1,160.0 L631.5,160.0 L631.9,160.1 L632.2,160.1 L632.7,160.0 L633.1,160.0 L633.5,160.2 L633.9,160.2 L634.4,160.0 L634.8,160.0 L634.9,160.2 L635.3,160.2 L635.7,160.0 L636.1,160.0 L636.3,160.1 L636.6,160.1 L637.0,160.1 L637.4,160.1 L638.0,160.1 L638.3,160.1 L638.9,160.0 L639.3,160.0 L639.5,160.2 L639.9,160.2 L640.5,160.0 L640.8,160.0 L641.4,160.1 L641.8,160.1 L642.1,160.0 L642.5,160.0 L643.0,160.5" fill="none" stroke="#ee1c24" stroke-width="1.7" stroke-linejoin="round"/>
<line x1="513.2" y1="30.2" x2="513.2" y2="161.0" stroke="#d2343b" stroke-width="2"/>
<text x="378.4" y="178.8" font-size="16.4" text-anchor="start" font-weight="normal" font-style="normal" fill="#111" textLength="45.8" lengthAdjust="spacingAndGlyphs" stroke="#111" stroke-width="0.3">MHCII</text>
<rect x="364.3" y="191.1" width="16.4" height="14.1" fill="#a3a3a3" stroke="#0a0a0a" stroke-width="2.6"/>
<text x="388.7" y="204" font-size="16.4" text-anchor="start" font-weight="normal" font-style="normal" fill="#111" textLength="25.3" lengthAdjust="spacingAndGlyphs" stroke="#111" stroke-width="0.3">WT</text>
<line x1="359.4" y1="218.7" x2="383.3" y2="218.7" stroke="#ee1c24" stroke-width="2.8"/>
<text x="388.7" y="224.8" font-size="16.4" text-anchor="start" font-weight="normal" font-style="normal" fill="#111" textLength="52" lengthAdjust="spacingAndGlyphs" stroke="#111" stroke-width="0.3">TLR7.1</text>
<text x="552.7" y="178.8" font-size="16.4" text-anchor="start" font-weight="normal" font-style="normal" fill="#111" textLength="45.8" lengthAdjust="spacingAndGlyphs" stroke="#111" stroke-width="0.3">MHCII</text>
<rect x="497.3" y="190.8" width="16" height="14.1" fill="#8f8f93" stroke="#0a0a0a" stroke-width="2.6"/>
<text x="522.6" y="204" font-size="16.4" text-anchor="start" font-weight="normal" font-style="normal" fill="#111" textLength="124" lengthAdjust="spacingAndGlyphs" stroke="#111" stroke-width="0.3">B6.SJL (CD45.1)</text>
<line x1="492.5" y1="218.2" x2="516.3" y2="218.2" stroke="#ee1c24" stroke-width="2.8"/>
<text x="518.8" y="224.7" font-size="16.4" text-anchor="start" font-weight="normal" font-style="normal" fill="#111" textLength="128" lengthAdjust="spacingAndGlyphs" stroke="#111" stroke-width="0.3">TLR7.1 (CD45.2)</text>
<text x="7.9" y="253.1" font-size="27.8" text-anchor="start" font-weight="bold" font-style="normal" fill="#111" textLength="18.7" lengthAdjust="spacingAndGlyphs" stroke="#111" stroke-width="0.5">D</text>
<line x1="141.9" y1="253.9" x2="141.9" y2="390.7" stroke="#0a0a0a" stroke-width="2.8"/>
<line x1="140.5" y1="389.3" x2="271" y2="389.3" stroke="#0a0a0a" stroke-width="2.9"/>
<line x1="136.0" y1="255.3" x2="141.9" y2="255.3" stroke="#0a0a0a" stroke-width="2.5"/>
<line x1="136.0" y1="298.5" x2="141.9" y2="298.5" stroke="#0a0a0a" stroke-width="2.5"/>
<line x1="136.0" y1="344.1" x2="141.9" y2="344.1" stroke="#0a0a0a" stroke-width="2.5"/>
<line x1="136.0" y1="389.3" x2="141.9" y2="389.3" stroke="#0a0a0a" stroke-width="2.5"/>
<text x="131.8" y="253.8" font-size="14.6" text-anchor="end" font-weight="normal" font-style="normal" fill="#111" textLength="28.8" lengthAdjust="spacingAndGlyphs" stroke="#111" stroke-width="0.3">0.15</text>
<text x="131.8" y="302.1" font-size="14.6" text-anchor="end" font-weight="normal" font-style="normal" fill="#111" textLength="28.8" lengthAdjust="spacingAndGlyphs" stroke="#111" stroke-width="0.3">0.10</text>
<text x="131.8" y="349.3" font-size="14.6" text-anchor="end" font-weight="normal" font-style="normal" fill="#111" textLength="28.8" lengthAdjust="spacingAndGlyphs" stroke="#111" stroke-width="0.3">0.05</text>
<text x="131.8" y="395.1" font-size="14.6" text-anchor="end" font-weight="normal" font-style="normal" fill="#111" textLength="28.8" lengthAdjust="spacingAndGlyphs" stroke="#111" stroke-width="0.3">0.00</text>
<rect x="150.05" y="356.25" width="10.5" height="33.05000000000001" fill="#fff" stroke="#0a0a0a" stroke-width="2.5"/>
<rect x="164.9" y="263.3" width="12.799999999999983" height="126.0" fill="#0a0a0a"/>
<rect x="193.35" y="385.85" width="10.200000000000017" height="3.4499999999999886" fill="#fff" stroke="#0a0a0a" stroke-width="2.5"/>
<rect x="208.2" y="380.6" width="12.600000000000023" height="8.699999999999989" fill="#0a0a0a"/>
<line x1="163.3" y1="389.3" x2="163.3" y2="394.90000000000003" stroke="#0a0a0a" stroke-width="2.5"/>
<line x1="206.5" y1="389.3" x2="206.5" y2="394.90000000000003" stroke="#0a0a0a" stroke-width="2.5"/>
<line x1="249.6" y1="389.3" x2="249.6" y2="394.90000000000003" stroke="#0a0a0a" stroke-width="2.5"/>
<text x="227.3" y="385.6" font-size="12.3" text-anchor="start" font-weight="normal" font-style="normal" fill="#111" textLength="20.6" lengthAdjust="spacingAndGlyphs" stroke="#111" stroke-width="0.1">n.d.</text>
<text x="251.6" y="385.6" font-size="12.3" text-anchor="start" font-weight="normal" font-style="normal" fill="#111" textLength="21.3" lengthAdjust="spacingAndGlyphs" stroke="#111" stroke-width="0.1">n.d.</text>
<text x="190.6" y="251.6" font-size="19.3" text-anchor="start" font-weight="bold" font-style="italic" fill="#111" textLength="43.6" lengthAdjust="spacingAndGlyphs" stroke="#111" stroke-width="0.2">Ifna1</text>
<text x="91.6" y="363.2" transform="rotate(-90 91.6 363.2)" font-size="15" text-anchor="start" font-weight="normal" font-style="normal" fill="#111" textLength="96.4" lengthAdjust="spacingAndGlyphs" stroke="#111" stroke-width="0.3">Arbitrary Units</text>
<text x="169.6" y="418.2" transform="rotate(-90 169.6 418.2)" font-size="16.2" text-anchor="end" font-weight="normal" font-style="normal" fill="#111" textLength="32.4" lengthAdjust="spacingAndGlyphs" stroke="#111" stroke-width="0.3">pDC</text>
<text x="201.6" y="399.3" transform="rotate(-90 201.6 399.3)" font-size="16.2" text-anchor="end" font-weight="normal" font-style="normal" fill="#111" textLength="95.6" lengthAdjust="spacingAndGlyphs" stroke="#111" stroke-width="0.3">Inflammatory</text>
<text x="220.9" y="411.3" transform="rotate(-90 220.9 411.3)" font-size="16.2" text-anchor="end" font-weight="normal" font-style="normal" fill="#111" textLength="70.6" lengthAdjust="spacingAndGlyphs" stroke="#111" stroke-width="0.3">Monocyte</text>
<text x="252.0" y="406.3" transform="rotate(-90 252.0 406.3)" font-size="16.2" text-anchor="end" font-weight="normal" font-style="normal" fill="#111" textLength="75" lengthAdjust="spacingAndGlyphs" stroke="#111" stroke-width="0.3">Neutrophil</text>
<line x1="358.5" y1="249.6" x2="358.5" y2="385.79999999999995" stroke="#0a0a0a" stroke-width="2.8"/>
<line x1="357.1" y1="384.4" x2="489" y2="384.4" stroke="#0a0a0a" stroke-width="2.9"/>
<line x1="352.6" y1="251" x2="358.5" y2="251" stroke="#0a0a0a" stroke-width="2.5"/>
<line x1="352.6" y1="295.4" x2="358.5" y2="295.4" stroke="#0a0a0a" stroke-width="2.5"/>
<line x1="352.6" y1="340.7" x2="358.5" y2="340.7" stroke="#0a0a0a" stroke-width="2.5"/>
<line x1="352.6" y1="384.4" x2="358.5" y2="384.4" stroke="#0a0a0a" stroke-width="2.5"/>
<text x="349.5" y="253.3" font-size="14.6" text-anchor="end" font-weight="normal" font-style="normal" fill="#111" textLength="28.8" lengthAdjust="spacingAndGlyphs" stroke="#111" stroke-width="0.3">0.15</text>
<text x="349.5" y="299.2" font-size="14.6" text-anchor="end" font-weight="normal" font-style="normal" fill="#111" textLength="28.8" lengthAdjust="spacingAndGlyphs" stroke="#111" stroke-width="0.3">0.10</text>
<text x="349.5" y="346.3" font-size="14.6" text-anchor="end" font-weight="normal" font-style="normal" fill="#111" textLength="28.8" lengthAdjust="spacingAndGlyphs" stroke="#111" stroke-width="0.3">0.05</text>
<text x="349.5" y="393.6" font-size="14.6" text-anchor="end" font-weight="normal" font-style="normal" fill="#111" textLength="28.8" lengthAdjust="spacingAndGlyphs" stroke="#111" stroke-width="0.3">0.00</text>
<rect x="367.25" y="362.95" width="10.600000000000023" height="21.44999999999999" fill="#fff" stroke="#0a0a0a" stroke-width="2.5"/>
<rect x="381.6" y="296.4" width="13.699999999999989" height="88.0" fill="#0a0a0a"/>
<rect x="425.6" y="379.4" width="13.199999999999989" height="5.0" fill="#0a0a0a"/>
<line x1="381.1" y1="384.4" x2="381.1" y2="390.0" stroke="#0a0a0a" stroke-width="2.5"/>
<line x1="424.4" y1="384.4" x2="424.4" y2="390.0" stroke="#0a0a0a" stroke-width="2.5"/>
<line x1="467.8" y1="384.4" x2="467.8" y2="390.0" stroke="#0a0a0a" stroke-width="2.5"/>
<text x="400.4" y="380.3" font-size="12.3" text-anchor="start" font-weight="normal" font-style="normal" fill="#111" textLength="22" lengthAdjust="spacingAndGlyphs" stroke="#111" stroke-width="0.1">n.d.</text>
<text x="444.6" y="380.2" font-size="12.3" text-anchor="start" font-weight="normal" font-style="normal" fill="#111" textLength="21.1" lengthAdjust="spacingAndGlyphs" stroke="#111" stroke-width="0.1">n.d.</text>
<text x="468.2" y="380.2" font-size="12.3" text-anchor="start" font-weight="normal" font-style="normal" fill="#111" textLength="21.3" lengthAdjust="spacingAndGlyphs" stroke="#111" stroke-width="0.1">n.d.</text>
<text x="394.9" y="254.2" font-size="19.3" text-anchor="start" font-weight="bold" font-style="italic" fill="#111" textLength="35.4" lengthAdjust="spacingAndGlyphs" stroke="#111" stroke-width="0.2">Ifnb</text>
<text x="303.9" y="360.6" transform="rotate(-90 303.9 360.6)" font-size="15" text-anchor="start" font-weight="normal" font-style="normal" fill="#111" textLength="94.5" lengthAdjust="spacingAndGlyphs" stroke="#111" stroke-width="0.3">Arbitrary Units</text>
<text x="390.3" y="411.8" transform="rotate(-90 390.3 411.8)" font-size="16.2" text-anchor="end" font-weight="normal" font-style="normal" fill="#111" textLength="32.4" lengthAdjust="spacingAndGlyphs" stroke="#111" stroke-width="0.3">pDC</text>
<text x="420.8" y="393.2" transform="rotate(-90 420.8 393.2)" font-size="16.2" text-anchor="end" font-weight="normal" font-style="normal" fill="#111" textLength="95.6" lengthAdjust="spacingAndGlyphs" stroke="#111" stroke-width="0.3">Inflammatory</text>
<text x="440.6" y="403.9" transform="rotate(-90 440.6 403.9)" font-size="16.2" text-anchor="end" font-weight="normal" font-style="normal" fill="#111" textLength="70.6" lengthAdjust="spacingAndGlyphs" stroke="#111" stroke-width="0.3">Monocyte</text>
<text x="471.2" y="398.5" transform="rotate(-90 471.2 398.5)" font-size="16.2" text-anchor="end" font-weight="normal" font-style="normal" fill="#111" textLength="75" lengthAdjust="spacingAndGlyphs" stroke="#111" stroke-width="0.3">Neutrophil</text>
<rect x="472.7" y="256" width="23.6" height="13" fill="#fff" stroke="#0a0a0a" stroke-width="2.6"/>
<text x="501.4" y="269" font-size="16.2" text-anchor="start" font-weight="normal" font-style="normal" fill="#111" textLength="24" lengthAdjust="spacingAndGlyphs" stroke="#111" stroke-width="0.3">WT</text>
<rect x="471.4" y="277.6" width="26.3" height="16.5" fill="#0a0a0a"/>
<text x="501.6" y="290.6" font-size="16.2" text-anchor="start" font-weight="normal" font-style="normal" fill="#111" textLength="52.6" lengthAdjust="spacingAndGlyphs" stroke="#111" stroke-width="0.3">TLR7.1</text>
</svg>
</body></html>
